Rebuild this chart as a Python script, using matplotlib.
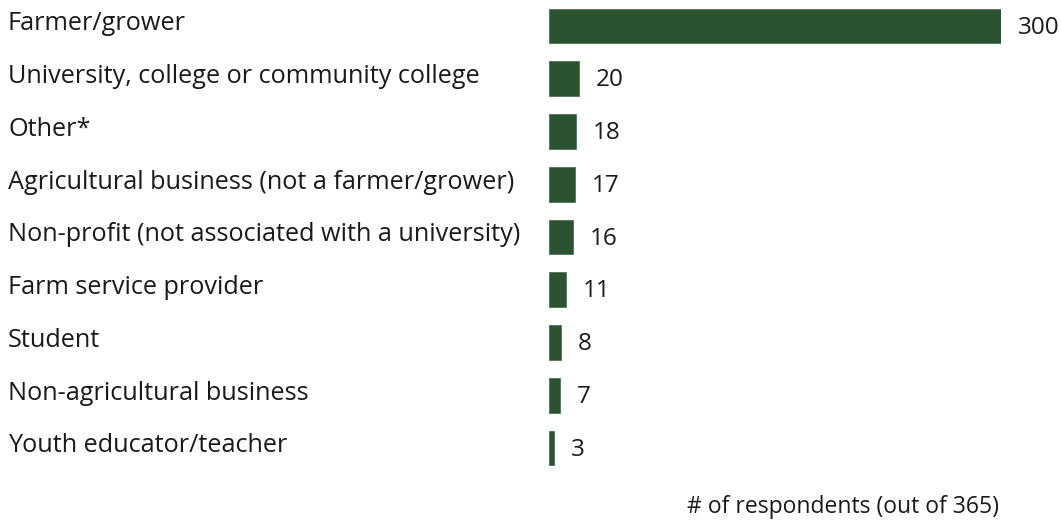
import matplotlib
matplotlib.use("Agg")
import matplotlib.pyplot as plt
import matplotlib.transforms as mtransforms

plt.rcParams['font.family'] = ['Open Sans', 'DejaVu Sans']

categories = [
    "Farmer/grower",
    "University, college or community college",
    "Other*",
    "Agricultural business (not a farmer/grower)",
    "Non-profit (not associated with a university)",
    "Farm service provider",
    "Student",
    "Non-agricultural business",
    "Youth educator/teacher",
]
counts = [300, 20, 18, 17, 16, 11, 8, 7, 3]
axis_title = "# of respondents (out of 365)"

bar_color = "#2b5331"
text_color = "#1a1a1a"
W, H = 1061, 520

fig = plt.figure(figsize=(W / 100, H / 100), dpi=100)
# axes spans the full height; x from 0 at 549px to 300 at 1001px
ax = fig.add_axes([549 / W, 0, (1001 - 549) / W, 1])
ax.set_xlim(0, 300)
row = 52.75
ax.set_ylim((H - 26) / row, -26 / row)

pos = list(range(len(categories)))
ax.barh(pos, counts, height=0.66, color=bar_color, edgecolor="#4f7355", linewidth=0.6)

for i, v in zip(pos, counts):
    ax.annotate(str(v), xy=(v, i + 0.03), xytext=(17, 0), textcoords="offset pixels",
                ha="left", va="center", fontsize=17.5, color=text_color,
                fontweight="normal", annotation_clip=False)

lbl_tr = mtransforms.blended_transform_factory(fig.transFigure, ax.transData)
for i, name in zip(pos, categories):
    ax.text(8 / W, i - 0.04, name, transform=lbl_tr, ha="left", va="center",
            fontsize=18.2, color=text_color, fontweight="normal", clip_on=False)

fig.text(843 / W, 1 - 507 / H, axis_title, ha="center", va="center",
         fontsize=16.5, color=text_color, fontweight="normal")

ax.axis("off")
fig.savefig("out.png", dpi=100, facecolor="white")
